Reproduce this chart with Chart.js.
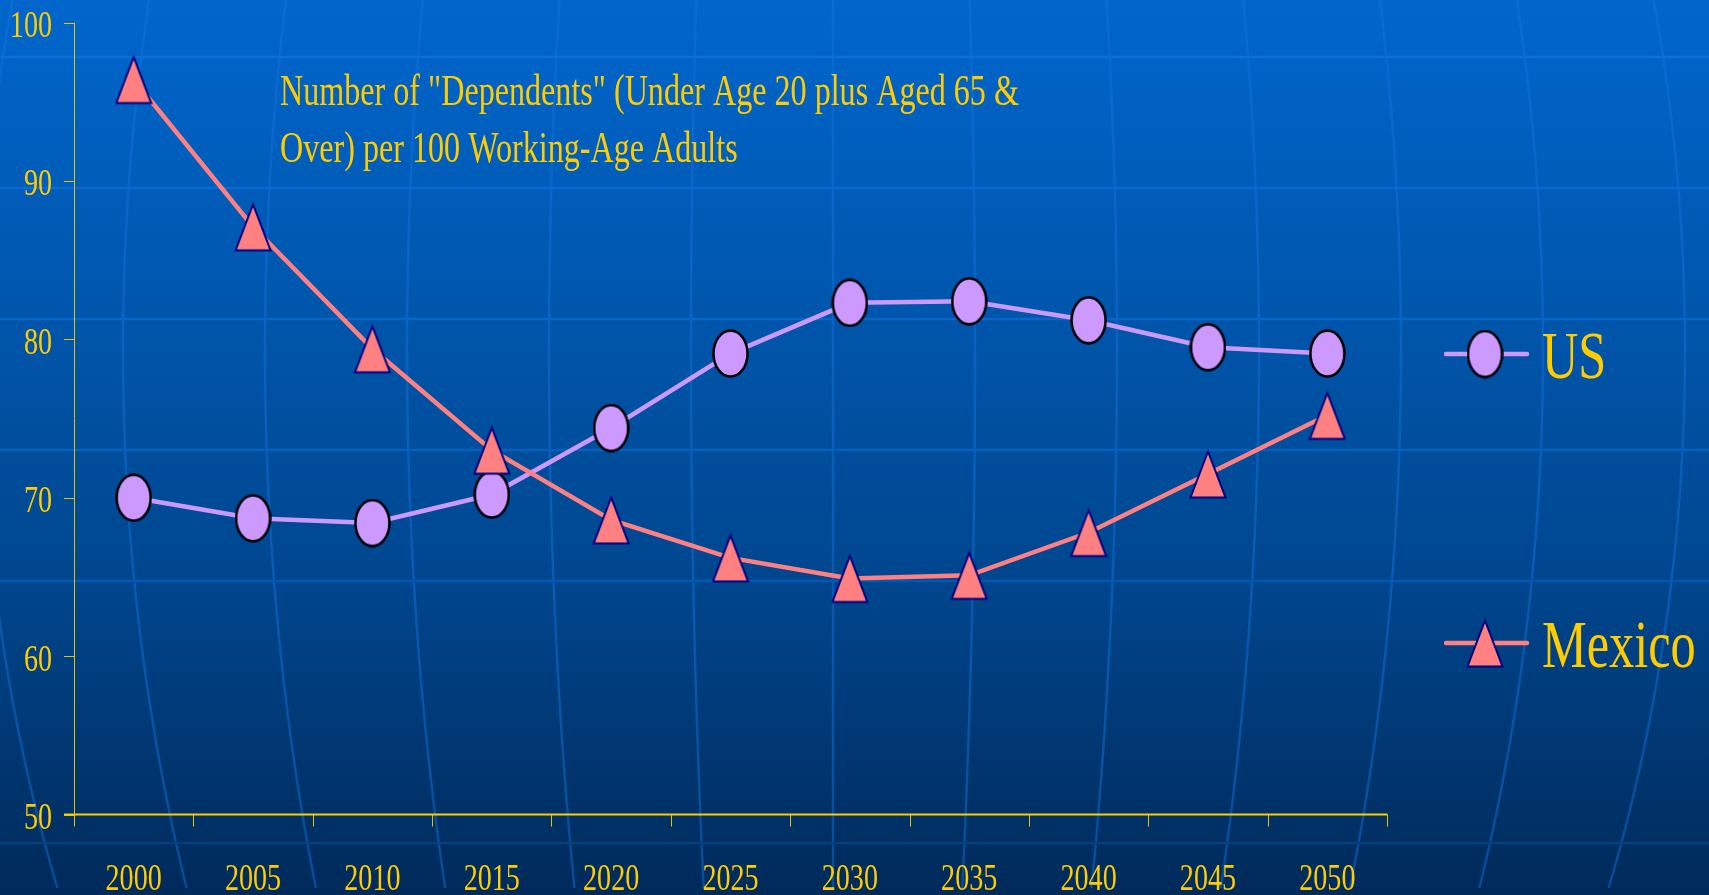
<!DOCTYPE html>
<html>
<head>
<meta charset="utf-8">
<title>Dependents per 100 Working-Age Adults</title>
<script src="https://cdn.jsdelivr.net/npm/chart.js@4.4.0/dist/chart.umd.min.js"></script>
<style>
  html, body { margin: 0; padding: 0; overflow: hidden; background: #00448c; }
  #wrap { position: relative; width: 1709px; height: 895px; }
</style>
</head>
<body>
<div id="wrap"><canvas id="chart"></canvas></div>
<script>
// --- data ---
const years = ['2000', '2005', '2010', '2015', '2020', '2025', '2030', '2035', '2040', '2045', '2050'];
const usValues = [70.0, 68.7, 68.4, 70.2, 74.4, 79.1, 82.3, 82.4, 81.2, 79.5, 79.1];
const mexicoValues = [96.4, 87.1, 79.4, 73.0, 68.6, 66.2, 64.9, 65.1, 67.8, 71.5, 75.2];
const yTicks = [50, 60, 70, 80, 90, 100];
const seriesNames = ['US', 'Mexico'];
const titleLines = [
    'Number of "Dependents" (Under Age 20 plus Aged 65 &',
    'Over) per 100 Working-Age Adults'
];

const GOLD = '#FFCC00';
const US_COLOR = '#CC99FF';
const MEX_COLOR = '#FF8080';
const SQUISH = 0.74;          // the slide text is drawn horizontally compressed
const SERIF = '"Liberation Serif", "Times New Roman", serif';

// marker images (the slide's markers are taller than wide)
function makeEllipseMarker() {
    const c = document.createElement('canvas');
    c.width = 37; c.height = 49;
    const g = c.getContext('2d');
    g.beginPath();
    g.ellipse(18.5, 24.5, 17, 23, 0, 0, Math.PI * 2);
    g.fillStyle = US_COLOR;
    g.fill();
    g.lineWidth = 2.5;
    g.strokeStyle = '#000000';
    g.stroke();
    return c;
}

function makeTriangleMarker() {
    const c = document.createElement('canvas');
    c.width = 38; c.height = 52;
    const g = c.getContext('2d');
    g.beginPath();
    g.moveTo(19, 3.5);
    g.lineTo(36.5, 49.5);
    g.lineTo(1.5, 49.5);
    g.closePath();
    g.fillStyle = MEX_COLOR;
    g.fill();
    g.lineWidth = 2;
    g.lineJoin = 'miter';
    g.strokeStyle = '#000080';
    g.stroke();
    return c;
}

const usMarker = makeEllipseMarker();
const mexMarker = makeTriangleMarker();

function squishedText(ctx, text, x, y, size, align, squish = SQUISH) {
    ctx.save();
    ctx.font = size + 'px ' + SERIF;
    ctx.translate(x, y);
    ctx.scale(squish, 1);
    ctx.textAlign = align;
    ctx.textBaseline = 'alphabetic';
    ctx.fillStyle = GOLD;
    ctx.fillText(text, 0, 0);
    ctx.restore();
}

// slide background: gradient, globe meridians and latitude bands
const slideBackground = {
    id: 'slideBackground',
    beforeDraw(chart) {
        const { ctx, width, height } = chart;
        ctx.save();
        const grad = ctx.createLinearGradient(0, 0, 0, height);
        grad.addColorStop(0, '#0066CC');
        grad.addColorStop(0.35, '#0056AC');
        grad.addColorStop(0.65, '#00468E');
        grad.addColorStop(0.85, '#003670');
        grad.addColorStop(1, '#002A5A');
        ctx.fillStyle = grad;
        ctx.fillRect(0, 0, width, height);

        // meridians, converging slightly towards the bottom
        ctx.lineWidth = 2.5;
        ctx.strokeStyle = 'rgba(20, 115, 225, 0.45)';
        for (let d = -6; d <= 7; d++) {
            ctx.beginPath();
            for (let py = 0; py <= height; py += 8) {
                const g = Math.sqrt(1 - Math.pow((py - 350) / 1300, 2));
                const px = 833 + d * 142 * g;
                if (py === 0) ctx.moveTo(px, py); else ctx.lineTo(px, py);
            }
            ctx.stroke();
        }

        // horizontal bands
        const bands = [[57, '#0A70DA'], [188, '#0A6AD2'], [319, '#0866C8'],
                       [450, '#0660BE'], [581, '#0558B2'], [843, '#04407E']];
        ctx.lineWidth = 2.5;
        bands.forEach(([py, col]) => {
            ctx.strokeStyle = col;
            ctx.beginPath();
            ctx.moveTo(0, py);
            ctx.lineTo(width, py);
            ctx.stroke();
        });
        ctx.restore();
    }
};

// axes, tick marks, tick labels and the text box
const slideAxes = {
    id: 'slideAxes',
    beforeDatasetsDraw(chart) {
        const { ctx, chartArea: area, scales: { x, y } } = chart;
        ctx.save();

        // y axis and its ticks
        ctx.strokeStyle = '#E6C200';
        ctx.lineWidth = 1;
        ctx.beginPath();
        ctx.moveTo(area.left + 0.5, area.top);
        ctx.lineTo(area.left + 0.5, area.bottom);
        yTicks.forEach(v => {
            const py = Math.round(y.getPixelForValue(v)) + 0.5;
            ctx.moveTo(area.left - 10, py);
            ctx.lineTo(area.left + 0.5, py);
        });
        ctx.stroke();

        // x axis ticks sit between the categories
        const half = (x.getPixelForValue(1) - x.getPixelForValue(0)) / 2;
        ctx.beginPath();
        for (let i = 0; i <= years.length; i++) {
            const px = Math.round(i < years.length ? x.getPixelForValue(i) - half
                                                   : x.getPixelForValue(i - 1) + half) + 0.5;
            ctx.moveTo(px, area.bottom);
            ctx.lineTo(px, area.bottom + 12);
        }
        ctx.stroke();

        ctx.strokeStyle = GOLD;
        ctx.lineWidth = 2;
        ctx.beginPath();
        ctx.moveTo(area.left - 10, area.bottom);
        ctx.lineTo(area.right + 0.5, area.bottom);
        ctx.stroke();

        yTicks.forEach(v => squishedText(ctx, String(v), 52, y.getPixelForValue(v) + 14.5, 38, 'right'));
        years.forEach((yr, i) => squishedText(ctx, yr, x.getPixelForValue(i), 890, 38, 'center'));

        titleLines.forEach((line, i) => squishedText(ctx, line, 280, 105 + i * 57, 44, 'left', 0.73));
        ctx.restore();
    }
};

// legend at the right, one entry per series
const slideLegend = {
    id: 'slideLegend',
    afterDatasetsDraw(chart) {
        const { ctx } = chart;
        const rows = [354, 643];
        ctx.save();
        seriesNames.forEach((name, i) => {
            const ds = chart.data.datasets.find(d => d.label === name);
            const cy = rows[i];
            ctx.strokeStyle = ds.borderColor;
            ctx.lineWidth = 4.5;
            ctx.lineCap = 'round';
            ctx.beginPath();
            ctx.moveTo(1446, cy);
            ctx.lineTo(1527, cy);
            ctx.stroke();
            const img = ds.pointStyle;
            ctx.drawImage(img, 1485 - img.width / 2, cy - img.height / 2);
            squishedText(ctx, name, 1542, cy + 23.5, 68, 'left');
        });
        ctx.restore();
    }
};

new Chart(document.getElementById('chart'), {
    type: 'line',
    data: {
        labels: years,
        datasets: [
            {
                label: seriesNames[0],
                data: usValues,
                borderColor: US_COLOR,
                borderWidth: 4.5,
                pointStyle: usMarker,
                pointRadius: 18,
                tension: 0,
                order: 1
            },
            {
                label: seriesNames[1],
                data: mexicoValues,
                borderColor: MEX_COLOR,
                borderWidth: 4.5,
                pointStyle: mexMarker,
                pointRadius: 18,
                tension: 0,
                order: 0
            }
        ]
    },
    options: {
        responsive: true,
        maintainAspectRatio: false,
        animation: false,
        layout: { padding: { left: 74, right: 322, top: 22.5, bottom: 80.5 } },
        scales: {
            x: { display: false, offset: true },
            y: { display: false, min: 50, max: 100 }
        },
        plugins: {
            legend: { display: false },
            tooltip: { enabled: false }
        }
    },
    plugins: [slideBackground, slideAxes, slideLegend]
});
</script>
</body>
</html>
